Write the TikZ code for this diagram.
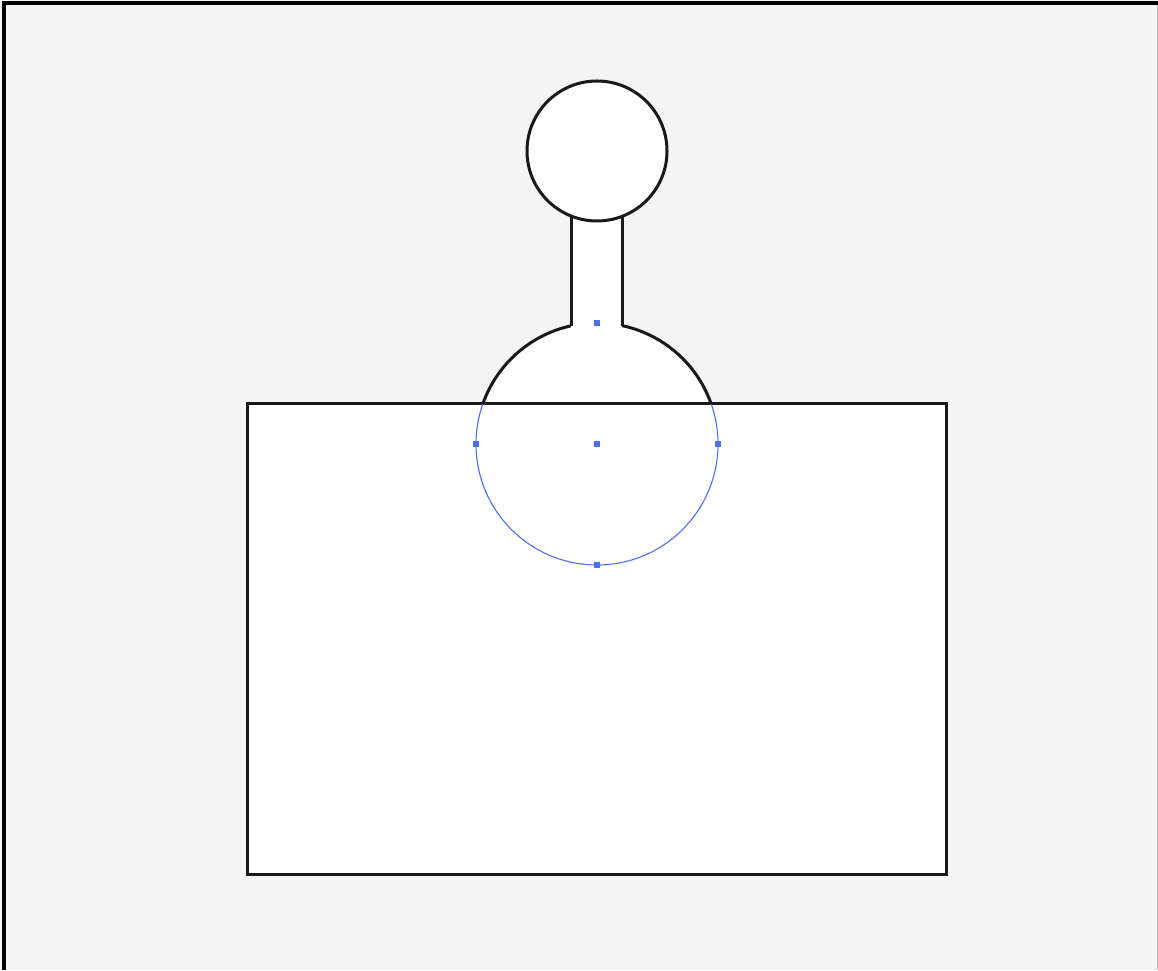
\documentclass[tikz,border=0pt]{standalone}
\usetikzlibrary{calc}
\definecolor{bg}{HTML}{F4F4F4}
\definecolor{sel}{RGB}{80,110,235}
\tikzset{
  outline/.style={draw=black!90, line width=3pt},
  guide/.style={draw=sel, line width=1.1pt},
  handle/.style={fill=sel, minimum size=6pt, inner sep=0pt, draw=none, rectangle},
}
\begin{document}
\begin{tikzpicture}[x=1pt,y=1pt]
\useasboundingbox (0,0) rectangle (1158,970);
\fill[bg] (0,0) rectangle (1158,970);
\draw[black!25, line width=1pt] (1157.5,0) -- (1157.5,968);
\draw[black, line width=3.5pt] (4,0) -- (4,967) -- (1158,967);
% main body
\coordinate (c) at (597,526);
\fill[white] (247,96) rectangle (946,566);
\fill[white] (c) circle[radius=121];
\draw[outline] (247,96) rectangle (946,566);
% guide circle
\draw[guide] (c) circle[radius=121];
\draw[outline] ($(c)+(19.3:121)$) arc[start angle=19.3, end angle=160.7, radius=121];
% stem
\fill[white] (571,640) rectangle (622,756);
\draw[outline] (571,644) -- (571,756);
\draw[outline] (622,644) -- (622,756);
% knob
\draw[outline, fill=white] (597,819) circle[radius=70];
% handles
\node[handle] (hc) at (c) {};
\node[handle] (ht) at (597,647) {};
\node[handle] (hb) at (597,405) {};
\node[handle] (hl) at (476,526) {};
\node[handle] (hr) at (718,526) {};
\end{tikzpicture}
\end{document}
